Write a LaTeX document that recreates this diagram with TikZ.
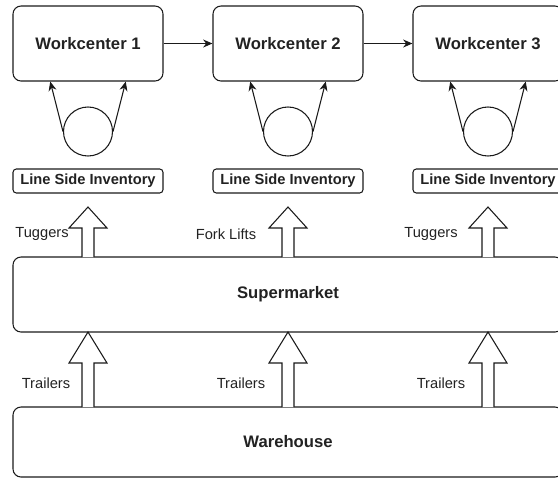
\documentclass[tikz,border=0pt]{standalone}
\usepackage{fontspec}
\setmainfont{Liberation Sans}
\usetikzlibrary{arrows.meta,calc}
\definecolor{ln}{HTML}{1A1A1A}
\definecolor{tx}{HTML}{222222}
\tikzset{
  wcbox/.style={draw=ln, line width=0.8pt, rounded corners=6pt, minimum width=112.5pt, minimum height=56.25pt, inner sep=0pt, font=\bfseries\fontsize{12.5}{14}\selectfont, text=tx},
  lsibox/.style={draw=ln, line width=0.8pt, rounded corners=2.5pt, minimum width=112.5pt, minimum height=18pt, inner sep=0pt, font=\bfseries\fontsize{11}{13}\selectfont, text=tx},
  bigbox/.style={draw=ln, line width=0.8pt, rounded corners=6pt, minimum width=412.5pt, inner sep=0pt, font=\bfseries\fontsize{12.5}{14}\selectfont, text=tx},
  loop/.style={draw=ln, line width=0.8pt, circle, minimum size=36.75pt, inner sep=0pt},
  conn/.style={draw=ln, line width=0.8pt, -{Stealth[length=7pt,width=6pt]}},
  blk/.style={draw=ln, line width=0.8pt, fill=white, line join=miter},
  lbl/.style={font=\fontsize{11}{13}\selectfont, text=tx, inner sep=0pt}
}
\begin{document}
\begin{tikzpicture}[x=0.75pt, y=-0.75pt]
\clip (0,0) rectangle (558,480);
\useasboundingbox (0,0) rectangle (558,480);
% workcenters
\node[wcbox] (wc1) at (88,43.5) {Workcenter 1};
\node[wcbox] (wc2) at (288,43.5) {Workcenter 2};
\node[wcbox] (wc3) at (488,43.5) {Workcenter 3};
\draw[conn] (wc1) -- (wc2);
\draw[conn] (wc2) -- (wc3);
% loops
\foreach \i/\x in {1/88,2/288,3/488}{
  \node[loop] (c\i) at (\x,131.5) {};
  \draw[conn] (c\i.west) -- ($(wc\i.south west)!0.25!(wc\i.south east)$);
  \draw[conn] (c\i.east) -- ($(wc\i.south west)!0.75!(wc\i.south east)$);
  \node[lsibox] (lsi\i) at (\x,181) {Line Side Inventory};
}
% big boxes
\node[bigbox, minimum height=56.25pt] (sm) at (288,294.5) {Supermarket};
\node[bigbox, minimum height=52.5pt] (wh) at (288,442) {Warehouse};
% block arrows
\foreach \x in {88,288,488}{
  \draw[blk] (\x-6,257) -- (\x-6,228) -- (\x-19,228) -- (\x,207) -- (\x+19,228) -- (\x+6,228) -- (\x+6,257);
  \draw[blk] (\x-6,407) -- (\x-6,363) -- (\x-19,363) -- (\x,332) -- (\x+19,363) -- (\x+6,363) -- (\x+6,407);
}
% labels
\node[lbl] (t1) at (42,234) {Tuggers};
\node[lbl] (f2) at (226,234) {Fork Lifts};
\node[lbl] (t3) at (431,234) {Tuggers};
\node[lbl] (r1) at (46,383.5) {Trailers};
\node[lbl] (r2) at (241,383.5) {Trailers};
\node[lbl] (r3) at (441,383.5) {Trailers};
\end{tikzpicture}
\end{document}
